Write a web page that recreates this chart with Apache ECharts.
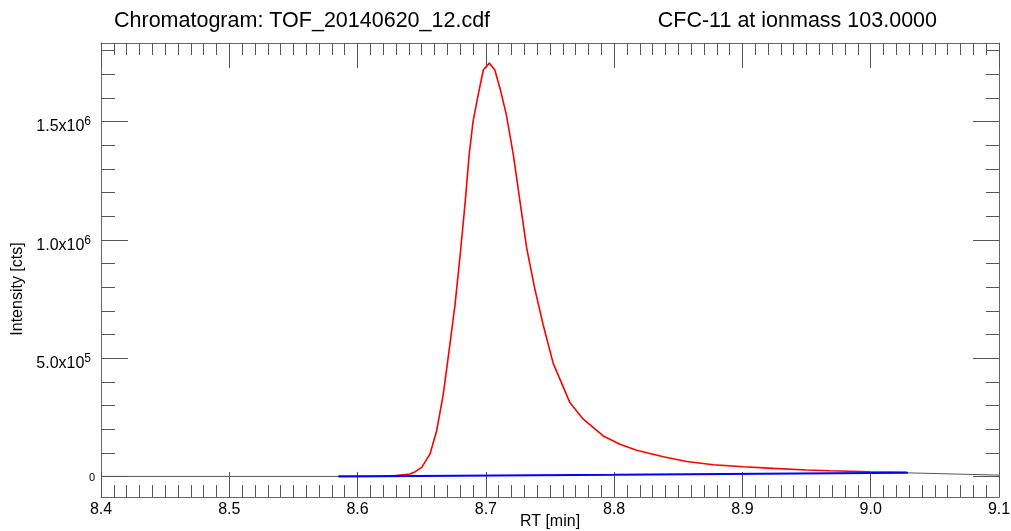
<!DOCTYPE html>
<html>
<head>
<meta charset="utf-8">
<script src="https://cdn.jsdelivr.net/npm/echarts@6/dist/echarts.min.js"></script>
<style>
html,body{margin:0;padding:0;background:#fff;}
#chart{width:1011px;height:531px;}
</style>
</head>
<body>
<div id="chart"></div>
<script>
// ---- texts ----
const titleLeft = 'Chromatogram: TOF_20140620_12.cdf';
const titleRight = 'CFC-11 at ionmass 103.0000';
const xName = 'RT [min]';
const yName = 'Intensity [cts]';

// ---- axis ranges / ticks ----
const xMin = 8.4, xMax = 9.1, xStep = 0.1;
const yMin = -87000, yMax = 1832000;
const yMajorTicks = [0, 500000, 1000000, 1500000];
const yMinorTicks = [100000, 200000, 300000, 400000, 600000, 700000, 800000, 900000,
  1100000, 1200000, 1300000, 1400000, 1600000, 1700000, 1800000];

// ---- peak (red) ----
const peakRT = [8.585, 8.600, 8.620, 8.630, 8.6408, 8.645, 8.650, 8.6564, 8.6616, 8.6668,
  8.672, 8.676, 8.680, 8.6837, 8.687, 8.690, 8.694, 8.698, 8.7027, 8.707,
  8.711, 8.716, 8.7214, 8.7266, 8.7318, 8.738, 8.7447, 8.7525, 8.7655, 8.7759,
  8.7915, 8.8045, 8.8175, 8.8383, 8.8565, 8.8773, 8.9006, 8.924, 8.950, 8.968,
  8.9994, 9.028];
const peakCounts = [500, 800, 1500, 4000, 10000, 20000, 38000, 94000, 192000, 347000,
  559000, 727000, 938000, 1149000, 1360000, 1500000, 1613000, 1718000, 1747000, 1718000,
  1641000, 1528000, 1360000, 1163000, 966000, 797000, 640000, 478000, 312000, 242000,
  171000, 136000, 111000, 83000, 63000, 49000, 41000, 34000, 27000, 24000,
  20000, 17000];

// ---- baseline (blue) ----
const baseRT = [8.585, 8.800, 9.029];
const baseCounts = [0, 7000, 15000];

// ---- raw trace outside peak window (grey) ----
const rawRT = [8.400, 8.585, 8.800, 9.029, 9.100];
const rawCounts = [0, 0, '-', 15000, 5500];

const pairs = (xs, ys) => xs.map((x, i) => [x, ys[i]]);
const FONT = '"Liberation Sans", Arial, Helvetica, sans-serif';

const chart = echarts.init(document.getElementById('chart'), null, {renderer: 'canvas'});

const xCommon = {
  type: 'value', min: xMin, max: xMax, interval: xStep,
  splitLine: {show: false},
  axisLine: {show: true, onZero: false, lineStyle: {color: '#666', width: 1}},
  axisTick: {show: true, inside: true, length: 25, lineStyle: {color: '#555', width: 1}},
  minorTick: {show: true, splitNumber: 10, length: 12, lineStyle: {color: '#555', width: 1}},
  minorSplitLine: {show: false}
};
const yCommon = {
  type: 'value', min: yMin, max: yMax,
  splitLine: {show: false},
  axisLine: {show: true, onZero: false, lineStyle: {color: '#666', width: 1}}
};

const option = {
  backgroundColor: '#fff',
  animation: false,
  title: [
    {text: titleLeft, left: 109, top: 5,
     textStyle: {fontFamily: FONT, fontSize: 21.5, fontWeight: 'normal', color: '#000'}},
    {text: titleRight, right: 69, top: 5,
     textStyle: {fontFamily: FONT, fontSize: 21.5, fontWeight: 'normal', color: '#000'}}
  ],
  grid: {left: 101, right: 12, top: 43, bottom: 34, containLabel: false, outerBoundsMode: 'none'},
  xAxis: [
    Object.assign({}, xCommon, {
      position: 'bottom',
      axisLabel: {show: true, margin: 5, fontFamily: FONT, fontSize: 16, color: '#000',
        showMinLabel: true, showMaxLabel: true,
        formatter: v => v.toFixed(1)},
      name: xName, nameLocation: 'middle', nameGap: 17, nameMoveOverlap: false,
      nameTextStyle: {fontFamily: FONT, fontSize: 16, color: '#000'}
    }),
    Object.assign({}, xCommon, {
      position: 'top',
      axisLabel: {show: false}
    })
  ],
  yAxis: [
    Object.assign({}, yCommon, {
      position: 'left',
      axisTick: {show: true, inside: true, length: 27, customValues: yMajorTicks,
        lineStyle: {color: '#555'}},
      axisLabel: {
        show: true, margin: 6, customValues: yMajorTicks,
        fontFamily: FONT, color: '#000',
        formatter: v => {
          if (v === 0) return '{z|0}';
          const e = Math.floor(Math.log10(v) + 1e-9);
          const m = v / Math.pow(10, e);
          return '{b|' + m.toFixed(1) + 'x10}{s|' + e + '}';
        },
        rich: {
          z: {fontFamily: FONT, fontSize: 11, color: '#000', padding: [4, 0, 0, 0]},
          b: {fontFamily: FONT, fontSize: 16, color: '#000', padding: [11, 0, 0, 0], verticalAlign: 'middle'},
          s: {fontFamily: FONT, fontSize: 12, color: '#000', padding: [8, 4, 0, 0], verticalAlign: 'top'}
        }
      },
      name: yName, nameLocation: 'middle', nameGap: 75, nameRotate: 90, nameMoveOverlap: false,
      nameTextStyle: {fontFamily: FONT, fontSize: 16, color: '#000', padding: [0, 38, 0, 0]}
    }),
    Object.assign({}, yCommon, {
      position: 'left',
      axisLine: {show: false, onZero: false},
      axisTick: {show: true, inside: true, length: 14, customValues: yMinorTicks,
        lineStyle: {color: '#555'}},
      axisLabel: {show: false}
    }),
    Object.assign({}, yCommon, {
      position: 'right',
      axisTick: {show: true, inside: true, length: 26, customValues: yMajorTicks,
        lineStyle: {color: '#555'}},
      axisLabel: {show: false}
    }),
    Object.assign({}, yCommon, {
      position: 'right',
      axisLine: {show: false, onZero: false},
      axisTick: {show: true, inside: true, length: 13, customValues: yMinorTicks,
        lineStyle: {color: '#555'}},
      axisLabel: {show: false}
    })
  ],
  series: [
    {type: 'line', name: 'raw', xAxisIndex: 0, yAxisIndex: 0, data: pairs(rawRT, rawCounts),
     showSymbol: false, connectNulls: false, lineStyle: {color: '#555', width: 1}, z: 2},
    {type: 'line', name: 'peak', xAxisIndex: 0, yAxisIndex: 0, data: pairs(peakRT, peakCounts),
     showSymbol: false, lineStyle: {color: '#ff0000', width: 1.6}, z: 3},
    {type: 'line', name: 'baseline', xAxisIndex: 0, yAxisIndex: 0, data: pairs(baseRT, baseCounts),
     showSymbol: false, lineStyle: {color: '#0000ff', width: 2}, z: 4}
  ]
};
chart.setOption(option);
</script>
</body>
</html>
